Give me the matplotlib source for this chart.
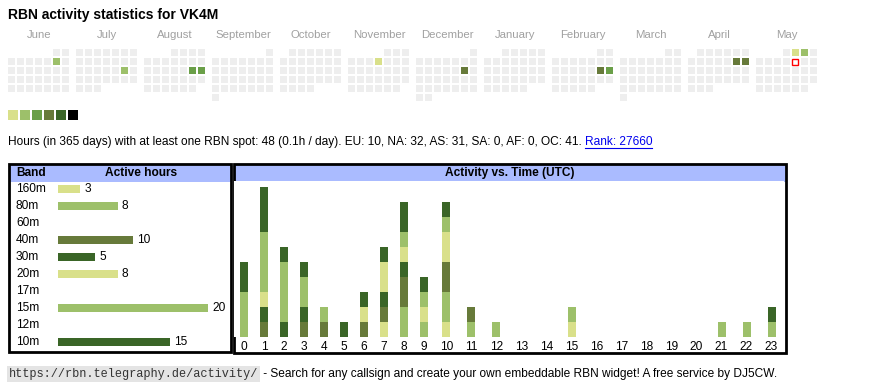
import datetime as dt
import matplotlib
matplotlib.use("Agg")
import matplotlib.pyplot as plt
from matplotlib.patches import Rectangle
import numpy as np

plt.rcParams['font.family'] = ['Liberation Sans', 'DejaVu Sans']

# colours
yel, lgr, mgr, oli, dgr = "#d9e08a", "#9dc06a", "#6a9f48", "#677a3a", "#3a6527"
levels = ["#eeeeee", yel, lgr, mgr, oli, dgr, "#000000"]

# calendar data (active days -> level)
start_month = dt.date(2024, 6, 1)
today = dt.date(2025, 5, 9)
month_names = ["June", "July", "August", "September", "October", "November",
               "December", "January", "February", "March", "April", "May"]
active_days = {
    dt.date(2024, 6, 8): 2, dt.date(2024, 7, 20): 2,
    dt.date(2024, 8, 17): 3, dt.date(2024, 8, 18): 3,
    dt.date(2024, 11, 7): 1, dt.date(2024, 12, 14): 4,
    dt.date(2025, 2, 15): 4, dt.date(2025, 2, 16): 3,
    dt.date(2025, 4, 12): 4, dt.date(2025, 4, 13): 4,
    dt.date(2025, 5, 2): 1, dt.date(2025, 5, 3): 2,
}

# band data
bands = ["160m", "80m", "60m", "40m", "30m", "20m", "17m", "15m", "12m", "10m"]
band_hours = [3, 8, 0, 10, 5, 8, 0, 20, 0, 15]
band_colors = [yel, lgr, lgr, oli, dgr, yel, yel, lgr, lgr, dgr]

# activity per hour, per band (stacked from 160m at the bottom)
hours = list(range(24))
act = {
    "160m": [0,0,0,0,0,0,0,1,0,0,1,0,0,0,0,1,0,0,0,0,0,0,0,0],
    "80m":  [0,0,0,0,0,0,0,0,2,1,2,1,0,0,0,0,0,0,0,0,0,1,1,0],
    "40m":  [0,1,0,1,1,0,1,1,2,0,2,1,0,0,0,0,0,0,0,0,0,0,0,0],
    "30m":  [0,1,1,1,0,0,0,1,1,0,0,0,0,0,0,0,0,0,0,0,0,0,0,0],
    "20m":  [0,1,0,0,0,0,1,2,1,1,2,0,0,0,0,0,0,0,0,0,0,0,0,0],
    "15m":  [3,4,4,2,1,0,0,0,1,1,1,0,1,0,0,1,0,0,0,0,0,0,0,1],
    "10m":  [2,3,1,1,0,1,1,1,2,1,1,0,0,0,0,0,0,0,0,0,0,0,0,1],
}

FS = 8.6
W, H = 870, 390
fig = plt.figure(figsize=(W / 100, H / 100), dpi=100)
ax0 = fig.add_axes([0, 0, 1, 1])
ax0.set_xlim(0, W)
ax0.set_ylim(H, 0)
ax0.axis("off")

def fig_axes(x0, y0, x1, y1):
    return fig.add_axes([x0 / W, 1 - y1 / H, (x1 - x0) / W, (y1 - y0) / H])

ax0.text(8, 15, "RBN activity statistics for VK4M", fontsize=10,
         fontweight="bold", va="center")

# calendar
for m in range(12):
    y, mo = start_month.year + (start_month.month - 1 + m) // 12, (start_month.month - 1 + m) % 12 + 1
    first = dt.date(y, mo, 1)
    nxt = dt.date(y + mo // 12, mo % 12 + 1, 1)
    bx = 8 + 68 * m
    ax0.text(bx + 31, 35, month_names[m], fontsize=8.2, color="#a0a0a0",
             ha="center", va="center")
    d = first
    while d < nxt:
        off = first.weekday() + d.day - 1
        r, c = off // 7, off % 7
        lv = active_days.get(d, 0)
        if d == today:
            ax0.add_patch(Rectangle((bx + 9 * c + 0.5, 49 + 9 * r + 0.5), 6, 6,
                                    facecolor="white", edgecolor="red", lw=1))
        else:
            ax0.add_patch(Rectangle((bx + 9 * c, 49 + 9 * r), 7, 7,
                                    facecolor=levels[lv], lw=0))
        d += dt.timedelta(days=1)

for i in range(1, 7):
    ax0.add_patch(Rectangle((8 + 12 * (i - 1), 110), 10, 10,
                            facecolor=levels[i], lw=0))

# summary line
t1 = ax0.text(8, 142, "Hours (in 365 days) with at least one RBN spot: 48 (0.1h / day). "
              "EU: 10, NA: 32, AS: 31, SA: 0, AF: 0, OC: 41. ",
              fontsize=FS, va="center")
fig.canvas.draw()
r = fig.canvas.get_renderer()
bb = t1.get_window_extent(r)
t2 = ax0.text(bb.x1, 142, "Rank: 27660", fontsize=FS, va="center",
              color="#0000ee")
bb2 = t2.get_window_extent(r)
ax0.plot([bb.x1, bb2.x1], [148, 148], color="#0000ee", lw=0.8)

# band table
ax0.add_patch(Rectangle((9, 165), 223, 17, facecolor="#aabbff", lw=0))
ax0.add_patch(Rectangle((9, 164), 222, 188, facecolor="none",
                        edgecolor="black", lw=2))
ax0.text(16, 173, "Band", fontsize=FS, fontweight="bold", va="center")
ax0.text(141, 173, "Active hours", fontsize=FS, fontweight="bold",
         va="center", ha="center")
axb = fig_axes(58, 180.5, 223, 350.5)
axb.set_xlim(0, 22)
axb.set_ylim(9.5, -0.5)
axb.axis("off")
for i, (b, v, c) in enumerate(zip(bands, band_hours, band_colors)):
    ax0.text(16, 189 + 17 * i, b, fontsize=FS, va="center")
    if v:
        axb.barh(i, v, height=0.42, color=c, left=0)
        axb.annotate(str(v), (v, i), xytext=(4, 0), textcoords="offset pixels",
                     fontsize=FS, va="center")

# activity vs time
ax0.add_patch(Rectangle((234, 165), 552, 17, facecolor="#aabbff", lw=0))
ax0.add_patch(Rectangle((234, 164), 552, 189, facecolor="none",
                        edgecolor="black", lw=2))
ax0.text(510, 173, "Activity vs. Time (UTC)", fontsize=FS,
         fontweight="bold", va="center", ha="center")
widths = np.array([20 if h < 10 else 25 for h in hours])
centers = np.cumsum(widths) - widths / 2
axa = fig_axes(234, 181, 784, 337)
axa.set_xlim(0, widths.sum())
axa.set_ylim(0, 156 / 15)
for s in ["top", "right", "left", "bottom"]:
    axa.spines[s].set_visible(False)
axa.set_yticks([])
axa.set_xticks(centers, [str(h) for h in hours], fontsize=FS)
axa.tick_params(axis="x", length=0, pad=3)
bottom = np.zeros(24)
for b, c in zip(bands, band_colors):
    if b in act:
        v = np.array(act[b])
        axa.bar(centers, v, width=8, bottom=bottom, color=c, lw=0)
        bottom += v

# footer
t3 = ax0.text(9, 374, "https://rbn.telegraphy.de/activity/", fontsize=8.6,
              family="Liberation Mono", va="center", color="#333333",
              bbox=dict(facecolor="#e4e4e4", edgecolor="none", pad=1.5))
fig.canvas.draw()
bb3 = t3.get_window_extent(r)
ax0.text(bb3.x1 + 2, 374, " - Search for any callsign and create your own embeddable "
         "RBN widget! A free service by DJ5CW.", fontsize=FS, va="center")

fig.savefig("out.png", dpi=100)
